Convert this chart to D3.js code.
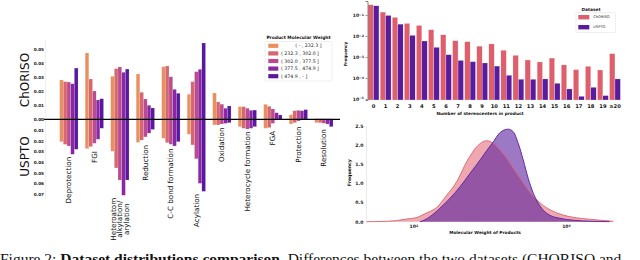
<!DOCTYPE html>
<html><head><meta charset="utf-8">
<script src="https://cdn.jsdelivr.net/npm/d3@7"></script>
<style>
html,body{margin:0;padding:0;background:#fff;}
svg{display:block;}
</style></head>
<body>
<svg id="c" width="640" height="260"></svg>
<script>
// ---------------- DATA ----------------
const categories = ["Deprotection","FGI","Heteroatom\nalkylation/\narylation","Reduction","C-C bond formation","Acylation","Oxidation","Heterocycle formation","FGA","Protection","Resolution"];
const mwBins = ["( - , 232.3 ]","( 232.3 , 302.0 ]","( 302.0 , 377.5 ]","( 377.5 , 474.9 ]","( 474.9 , - ]"];
// rows = categories, columns = molecular-weight bins
const chorisoByClass = [
  [0.0281,0.0269,0.0266,0.0254,0.0366],
  [0.0474,0.0288,0.0202,0.0138,0.0147],
  [0.0307,0.0362,0.0374,0.0336,0.0359],
  [0.0324,0.0193,0.0145,0.0100,0.0081],
  [0.0376,0.0381,0.0304,0.0214,0.0186],
  [0.0179,0.0269,0.0340,0.0357,0.0545],
  [0.0188,0.0124,0.0108,0.0079,0.0095],
  [0.0090,0.0090,0.0079,0.0064,0.0066],
  [0.0107,0.0093,0.0074,0.0047,0.0031],
  [0.0033,0.0061,0.0064,0.0061,0.0069],
  [0.0005,0.0004,0.0004,0.0003,0.0003]
];
const usptoByClass = [
  [0.0210,0.0235,0.0250,0.0328,0.0281],
  [0.0275,0.0256,0.0225,0.0187,0.0084],
  [0.0300,0.0456,0.0569,0.0712,0.0569],
  [0.0216,0.0195,0.0165,0.0130,0.0095],
  [0.0178,0.0219,0.0234,0.0250,0.0210],
  [0.0140,0.0240,0.0370,0.0600,0.0675],
  [0.0053,0.0053,0.0044,0.0038,0.0032],
  [0.0069,0.0084,0.0091,0.0084,0.0069],
  [0.0084,0.0078,0.0038,0.0006,0.0003],
  [0.0044,0.0032,0.0016,0.0006,0.0003],
  [0.0032,0.0032,0.0037,0.0044,0.0069]
];
const topTicks = [0,0.01,0.02,0.03,0.04,0.05];
const bottomTicks = [0.01,0.02,0.03,0.04,0.05,0.06,0.07];

const datasets = ["ChORISO","USPTO"];
const stereoCats = ["0","1","2","3","4","5","6","7","8","9","10","11","12","13","14","15","16","17","18","19","\u226520"];
const stereoChoriso = [0.31,0.139,0.078,0.040,0.032,0.020,0.0115,0.0060,0.0054,0.0033,0.0042,0.0021,0.0012,0.00072,0.00058,0.00089,0.00042,0.00025,0.00036,0.00024,0.00144];
const stereoUspto = [0.277,0.096,0.037,0.0108,0.0058,0.0029,0.00129,0.00069,0.0006,0.00052,0.00037,0.000135,0.000087,0.000087,0.00009,0.000056,0.00003,0.0000134,0.000036,0.0000145,0.00009];
const stereoTicks = [1e-5,1e-4,1e-3,1e-2,1e-1];

const mwChorisoX = [49,60.5,77.8,90.6,105.3,122.4,142.3,165.5,192.4,223.7,260.1,302.4,334.3,369.7,409.1,451.9,500.3,553.4,611.4,676.4,748.2,869.6,1062,1298,1670,2042];
const mwChorisoY = [0,0.005,0.03,0.07,0.11,0.23,0.37,0.69,1.04,1.56,1.95,2.11,2.04,1.87,1.65,1.39,1.13,0.88,0.66,0.49,0.36,0.23,0.13,0.08,0.04,0.01];
const mwUsptoX = [110.6,119,128.5,149.5,174.0,202.4,235.5,274.1,302.4,334.3,369.7,418.6,451.9,487.0,525.0,565.9,611.4,658.8,710.5,782.6,910.2,1108,1499,1937];
const mwUsptoY = [0,0.05,0.13,0.35,0.61,0.91,1.26,1.61,1.85,2.08,2.32,2.41,2.34,2.04,1.61,1.13,0.74,0.48,0.30,0.17,0.09,0.04,0.01,0];
const mwYTicks = [0,0.5,1.0,1.5,2.0,2.5];
const mwXTicks = [100,1000];

// ---------------- STYLE ----------------
const binColors = ["#E8915E","#D6666F","#B84C8E","#8B27A2","#5A18A0"];
const dsColors = {ChORISO:"#DF5E6C", USPTO:"#5A1C9E"};
const SANS = "DejaVu Sans";

const svg = d3.select("#c");
svg.append("rect").attr("width",640).attr("height",260).attr("fill","#fff");

// ================= LEFT CHART =================
const L = svg.append("g");
const x0 = d3.scaleBand().domain(categories).range([56.1,336.6]).paddingInner(0.28).paddingOuter(0.14);
const x1 = d3.scaleBand().domain(mwBins).range([0,x0.bandwidth()]);
const yTop = d3.scaleLinear().domain([0,0.05]).range([119.3,49.3]);
const yBot = d3.scaleLinear().domain([0,0.07]).range([119.3,194]);

// faint spine
L.append("line").attr("x1",45.6).attr("x2",45.6).attr("y1",40).attr("y2",198).attr("stroke","#e2e2e2").attr("stroke-width",0.6);

const yTopAxis = d3.axisLeft(yTop).tickValues(topTicks).tickFormat(d3.format(".2f")).tickSize(0).tickPadding(1);
const yBotAxis = d3.axisLeft(yBot).tickValues(bottomTicks).tickFormat(d3.format(".2f")).tickSize(0).tickPadding(1);
[L.append("g").attr("transform","translate(45,0)").call(yTopAxis),
 L.append("g").attr("transform","translate(45,0)").call(yBotAxis)].forEach(g=>{
  g.select(".domain").remove();
  g.selectAll("text").attr("font-family",SANS).attr("font-weight","bold").attr("font-size",4.2).attr("fill","#222");
});

categories.forEach((cat,ci)=>{
  const g = L.append("g").attr("transform",`translate(${x0(cat)},0)`);
  g.selectAll("rect.t").data(chorisoByClass[ci]).join("rect")
    .attr("x",(d,i)=>x1(mwBins[i])).attr("width",x1.bandwidth())
    .attr("y",d=>yTop(d)).attr("height",d=>yTop(0)-yTop(d))
    .attr("fill",(d,i)=>binColors[i]).attr("stroke","#fff").attr("stroke-opacity",0.5).attr("stroke-width",0.3);
  g.selectAll("rect.b").data(usptoByClass[ci]).join("rect")
    .attr("x",(d,i)=>x1(mwBins[i])).attr("width",x1.bandwidth())
    .attr("y",yBot(0)).attr("height",d=>yBot(d)-yBot(0))
    .attr("fill",(d,i)=>binColors[i]).attr("stroke","#fff").attr("stroke-opacity",0.5).attr("stroke-width",0.3);
});

// zero line
L.append("line").attr("x1",44).attr("x2",340).attr("y1",yTop(0)).attr("y2",yTop(0)).attr("stroke","#000").attr("stroke-width",1.3);

// category labels
categories.forEach((cat,ci)=>{
  const lines = cat.split("\n");
  const cx = x0(cat)+x0.bandwidth()/2;
  const top = yBot(d3.max(usptoByClass[ci]))+2.5;
  const lh = 6.6;
  const t = L.append("text").attr("font-family",SANS).attr("font-size",7.2).attr("fill","#111").attr("text-anchor","middle");
  lines.forEach((ln,li)=>{
    t.append("tspan").attr("x",0).attr("y",(li-(lines.length-1)/2)*lh).attr("dy","0.35em").text(ln);
  });
  let maxLen = 0;
  t.selectAll("tspan").each(function(){maxLen=Math.max(maxLen,this.getComputedTextLength());});
  t.attr("transform",`translate(${cx},${top+maxLen/2}) rotate(-90)`);
});

// dataset labels
L.append("text").attr("transform","translate(29,80) rotate(-90)").attr("text-anchor","middle")
  .attr("font-family",SANS).attr("font-size",12).attr("fill","#111").text(datasets[0]);
L.append("text").attr("transform","translate(29,156.5) rotate(-90)").attr("text-anchor","middle")
  .attr("font-family",SANS).attr("font-size",12).attr("fill","#111").text(datasets[1]);

// legend
const lg = L.append("g");
lg.append("text").attr("x",298.5).attr("y",39).attr("text-anchor","middle").attr("font-family",SANS)
  .attr("font-weight","bold").attr("font-size",4.4).attr("fill","#111").text("Product Molecular Weight");
lg.append("rect").attr("x",265).attr("y",41.5).attr("width",67).attr("height",39.5).attr("rx",1.2)
  .attr("fill","#fff").attr("stroke","#e4e4e4").attr("stroke-width",0.6);
mwBins.forEach((b,i)=>{
  const yy = 45.7+i*7.6;
  lg.append("rect").attr("x",268.3).attr("y",yy-2).attr("width",10).attr("height",4.2).attr("fill",binColors[i]);
  const first = i===0;
  lg.append("text").attr("x",first?321.5:281).attr("y",yy).attr("dy","0.35em")
    .attr("text-anchor",first?"end":"start").attr("font-family",SANS).attr("font-size",4.7).attr("fill","#222").text(b);
});

// ================= TOP RIGHT: STEREOCENTERS =================
const R = svg.append("g");
const sx0 = d3.scaleBand().domain(stereoCats).range([367.5,621]).paddingInner(0.1).paddingOuter(0.05);
const sx1 = d3.scaleBand().domain(datasets).range([0,sx0.bandwidth()]);
const sy = d3.scaleLog().domain([Math.pow(10,-5.05),Math.pow(10,-0.33)]).range([100,1]);

stereoCats.forEach((c,i)=>{
  const vals = [stereoChoriso[i],stereoUspto[i]];
  R.append("g").attr("transform",`translate(${sx0(c)},0)`).selectAll("rect").data(vals).join("rect")
    .attr("x",(d,j)=>sx1(datasets[j])).attr("width",sx1.bandwidth())
    .attr("y",d=>sy(d)).attr("height",d=>sy.range()[0]-sy(d))
    .attr("fill",(d,j)=>dsColors[datasets[j]]).attr("stroke","#fff").attr("stroke-width",0.25);
});
const syAxis = R.append("g").attr("transform","translate(367.5,0)")
  .call(d3.axisLeft(sy).tickValues(stereoTicks).tickSize(2).tickPadding(1.5).tickFormat(()=>"")) ;
syAxis.select(".domain").attr("stroke","#333").attr("stroke-width",0.6);
syAxis.selectAll(".tick line").attr("stroke","#333").attr("stroke-width",0.5);
syAxis.selectAll(".tick text").each(function(d){
  const t = d3.select(this).attr("font-family",SANS).attr("font-weight","bold").attr("font-size",4.6).attr("fill","#222");
  t.append("tspan").text("10");
  t.append("tspan").attr("dy","-0.45em").attr("font-size",3.2).text("\u2212"+(-Math.round(Math.log10(d))));
});
const sxAxis = R.append("g").attr("transform","translate(0,100)")
  .call(d3.axisBottom(sx0).tickSize(0).tickPadding(4.5));
sxAxis.select(".domain").remove();
sxAxis.selectAll("text").attr("font-family",SANS).attr("font-weight","bold").attr("font-size",5.2).attr("fill","#111");
R.append("text").attr("x",480).attr("y",115.3).attr("text-anchor","middle").attr("font-family",SANS)
  .attr("font-weight","bold").attr("font-size",4.3).attr("fill","#111").text("Number of stereocenters in product");
R.append("text").attr("transform","translate(346.5,54) rotate(-90)").attr("text-anchor","middle").attr("font-family",SANS)
  .attr("font-weight","bold").attr("font-size",4.2).attr("fill","#111").text("Frequency");
// legend
const lg2 = R.append("g");
lg2.append("text").attr("x",591).attr("y",10.5).attr("text-anchor","middle").attr("font-family",SANS)
  .attr("font-weight","bold").attr("font-size",4.3).attr("fill","#111").text("Dataset");
lg2.append("rect").attr("x",576).attr("y",12.5).attr("width",39.5).attr("height",20).attr("rx",1)
  .attr("fill","#fff").attr("stroke","#e4e4e4").attr("stroke-width",0.6);
datasets.forEach((d,i)=>{
  const yy = 17.2+i*10;
  lg2.append("rect").attr("x",578.3).attr("y",yy-2.2).attr("width",11).attr("height",4.4).attr("fill",dsColors[d]);
  lg2.append("text").attr("x",593.3).attr("y",yy).attr("dy","0.35em").attr("font-family",SANS)
    .attr("font-size",3.6).attr("fill","#222").text(d.toUpperCase()==="CHORISO"?"ChORISO":d);
});

// ================= BOTTOM RIGHT: MW DISTRIBUTION =================
const M = svg.append("g");
const mx = d3.scaleLog().domain([49,2042]).range([366,613.3]);
const my = d3.scaleLinear().domain([0,2.5]).range([221.7,125.7]);
const chData = mwChorisoX.map((v,i)=>[v,mwChorisoY[i]]);
const usData = mwUsptoX.map((v,i)=>[v,mwUsptoY[i]]);
const area = d3.area().x(d=>mx(d[0])).y0(my(0)).y1(d=>my(d[1])).curve(d3.curveMonotoneX);
const line = d3.line().x(d=>mx(d[0])).y(d=>my(d[1])).curve(d3.curveMonotoneX);
M.append("path").attr("d",area(chData)).attr("fill","#E0606E").attr("fill-opacity",0.55);
M.append("path").attr("d",area(usData)).attr("fill","#5A1E9E").attr("fill-opacity",0.6);
M.append("path").attr("d",line(chData)).attr("fill","none").attr("stroke","#E0606E").attr("stroke-width",0.9);
M.append("path").attr("d",line(usData)).attr("fill","none").attr("stroke","#5A1E9E").attr("stroke-width",0.9);

const myAxis = M.append("g").attr("transform","translate(366,0)")
  .call(d3.axisLeft(my).tickValues(mwYTicks).tickFormat(d3.format(".1f")).tickSize(0).tickPadding(2.5));
myAxis.select(".domain").attr("stroke","#ddd").attr("stroke-width",0.6);
myAxis.selectAll("text").attr("font-family",SANS).attr("font-weight","bold").attr("font-size",4.6).attr("fill","#222");
const mxAxis = M.append("g").attr("transform","translate(0,221.7)")
  .call(d3.axisBottom(mx).tickValues(mwXTicks).tickSize(0).tickPadding(3).tickFormat(()=>""));
mxAxis.select(".domain").remove();
mxAxis.selectAll(".tick text").each(function(d){
  const t = d3.select(this).attr("font-family",SANS).attr("font-weight","bold").attr("font-size",4.6).attr("fill","#222");
  t.append("tspan").text("10");
  t.append("tspan").attr("dy","-0.45em").attr("font-size",3.2).text(Math.round(Math.log10(d)));
});
M.append("text").attr("x",485).attr("y",234).attr("text-anchor","middle").attr("font-family",SANS)
  .attr("font-weight","bold").attr("font-size",4.3).attr("fill","#111").text("Molecular Weight of Products");
M.append("text").attr("transform","translate(350.5,172.7) rotate(-90)").attr("text-anchor","middle").attr("font-family",SANS)
  .attr("font-weight","bold").attr("font-size",4.6).attr("fill","#111").text("Frequency");

// ================= CAPTION =================
const cap = svg.append("text").attr("x",0).attr("y",264).attr("font-family","Liberation Serif").attr("font-size",15.5).attr("fill","#111");
cap.append("tspan").text("Figure 2: ");
cap.append("tspan").attr("font-weight","bold").text("Dataset distributions comparison.");
cap.append("tspan").text(" Differences between the two datasets (CHORISO and");
</script>
</body></html>
